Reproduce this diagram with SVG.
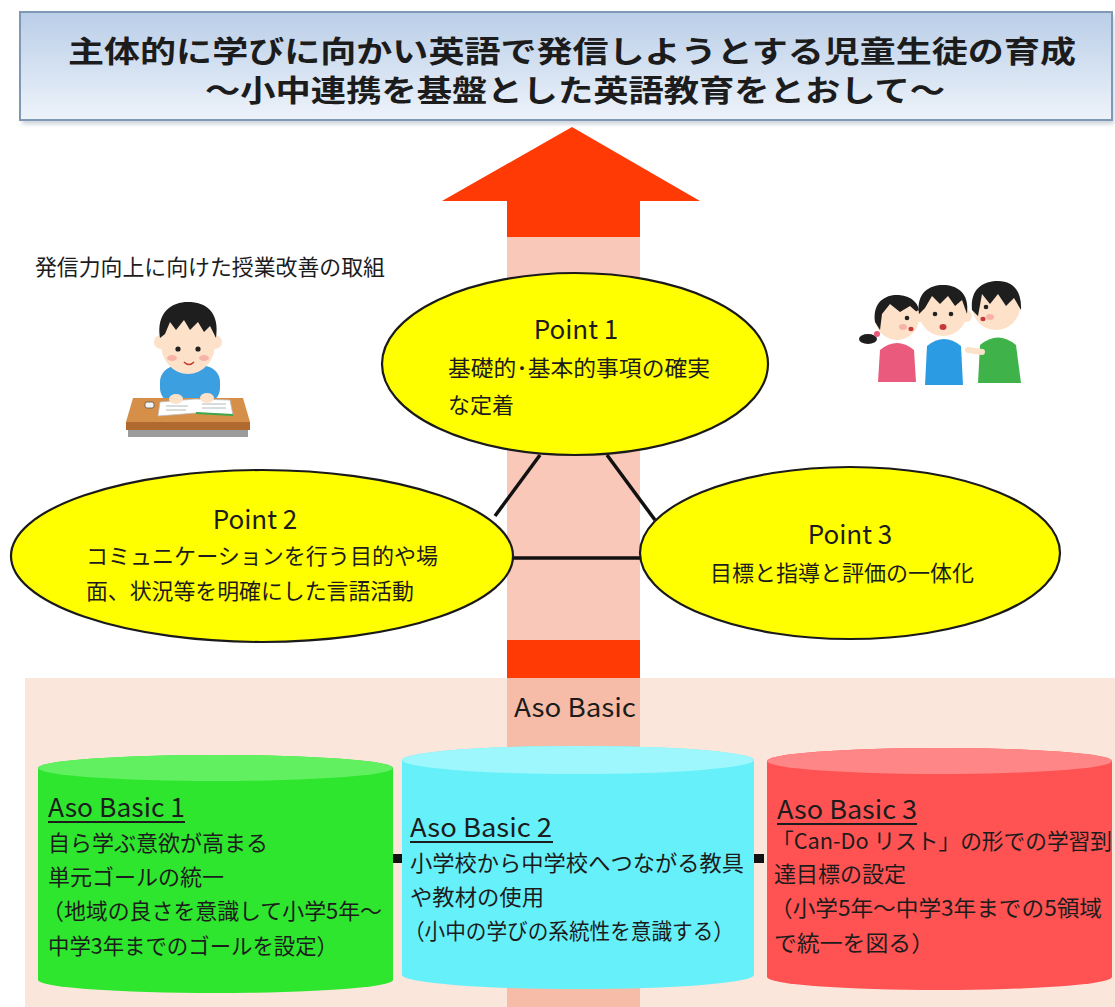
<svg xmlns="http://www.w3.org/2000/svg" width="1115" height="1007" viewBox="0 0 1115 1007">
  <defs>
    <linearGradient id="titleFill" x1="0" y1="0" x2="0" y2="1">
      <stop offset="0" stop-color="#b9cee8"/>
      <stop offset="1" stop-color="#eef3fa"/>
    </linearGradient>
    <filter id="soft" x="-5%" y="-5%" width="110%" height="120%">
      <feGaussianBlur stdDeviation="2"/>
    </filter>
    <style>
      text { font-family: "Noto Sans CJK JP", "Noto Sans", sans-serif; fill: #1c1c1c; }
      .title { font-size: 30px; font-weight: bold; }
      .jp { font-size: 22px; }
      .pt { font-size: 26px; }
      .ab { font-size: 26px; }
      .point { fill: #ffff00; stroke: #1a1a1a; stroke-width: 2.2; }
      .link { stroke: #111; stroke-width: 3.5; fill: none; }
      .uline { stroke: #1c1c1c; stroke-width: 2; }
      .skin { fill: #fde1c9; }
      .hair { fill: #1e1e1e; }
      .cheek { fill: #f7b3a6; }
      .eye { fill: #222; }
    </style>
  </defs>

  <rect width="1115" height="1007" fill="#ffffff"/>

  <!-- title banner -->
  <g id="title">
    <rect x="22" y="16" width="1092" height="108" fill="#9aa6b4" opacity="0.5" filter="url(#soft)"/>
    <rect x="20" y="12" width="1092" height="108" fill="url(#titleFill)" stroke="#7f98b6" stroke-width="2"/>
    <text class="title" x="572" y="62" text-anchor="middle" textLength="1008" lengthAdjust="spacingAndGlyphs">主体的に学びに向かい英語で発信しようとする児童生徒の育成</text>
    <text class="title" x="575" y="101" text-anchor="middle" textLength="740" lengthAdjust="spacingAndGlyphs">～小中連携を基盤とした英語教育をとおして～</text>
  </g>

  <!-- lower "Aso Basic" band -->
  <rect x="25" y="678" width="1090" height="329" fill="#fbe6dc"/>

  <!-- central upward arrow -->
  <g id="arrow">
    <rect x="507" y="237" width="133" height="441" fill="#f9c8b9"/>
    <rect x="507" y="678" width="133" height="329" fill="#f6bca7"/>
    <rect x="507" y="640" width="133" height="38" fill="#ff3a05"/>
    <polygon points="572,127 700,201 640,201 640,237 507,237 507,201 442,201" fill="#ff3a05"/>
  </g>

  <text class="jp" x="35" y="275" textLength="350" lengthAdjust="spacingAndGlyphs">発信力向上に向けた授業改善の取組</text>

  <!-- boy studying at a desk -->
  <g id="boy-desk">
    <rect x="160" y="366" width="60" height="38" rx="16" fill="#3c9fe0"/>
    <circle cx="161" cy="342" r="7" class="skin"/>
    <circle cx="215" cy="342" r="7" class="skin"/>
    <ellipse cx="188" cy="344" rx="27" ry="30" class="skin"/>
    <path class="hair" d="M160,338 C156,312 172,302 188,302 C206,302 220,312 216,338 L210,326 L204,332 L198,322 L190,330 L184,320 L176,330 L170,322 L165,334 Z"/>
    <circle cx="178" cy="349" r="2.6" class="eye"/>
    <circle cx="198" cy="349" r="2.6" class="eye"/>
    <ellipse cx="172" cy="358" rx="5" ry="3" class="cheek"/>
    <ellipse cx="204" cy="358" rx="5" ry="3" class="cheek"/>
    <path d="M184,362 Q189,367 194,362" stroke="#c0392b" stroke-width="1.6" fill="none"/>
    <polygon points="133,398 243,398 250,422 126,422" fill="#d58f48"/>
    <rect x="126" y="422" width="124" height="8" fill="#b06a30"/>
    <rect x="128" y="430" width="120" height="7" fill="#9c9c9c"/>
    <polygon points="160,402 195,399 230,400 233,415 196,413 158,416" fill="#ffffff" stroke="#bbb" stroke-width="0.8"/>
    <path d="M196,413 L233,415" stroke="#3aa84a" stroke-width="2"/>
    <path d="M166,406 H188 M166,410 H186 M202,404 H226 M202,408 H226" stroke="#9aa" stroke-width="0.8"/>
    <ellipse cx="176" cy="399" rx="7" ry="5" class="skin"/>
    <ellipse cx="207" cy="398" rx="7" ry="5" class="skin"/>
    <rect x="145" y="402" width="9" height="6" rx="2" fill="#f4f4f4" stroke="#555" stroke-width="0.8"/>
  </g>

  <!-- children talking -->
  <g id="children">
    <!-- girl -->
    <path d="M878,382 L880,350 Q897,336 914,350 L916,382 Z" fill="#ea5a7c"/>
    <ellipse cx="868" cy="339" rx="9" ry="5" class="hair"/>
    <circle cx="877" cy="334" r="3" fill="#e85a7a"/>
    <circle cx="897" cy="318" r="22" class="skin"/>
    <path class="hair" d="M875,322 C872,300 888,294 899,295 C912,296 920,304 919,314 L910,306 L900,312 L890,304 L882,314 L880,330 Z"/>
    <circle cx="907" cy="318" r="2.3" class="eye"/>
    <ellipse cx="903" cy="327" rx="4" ry="3" class="cheek"/>
    <ellipse cx="911" cy="329" rx="2.6" ry="2.2" fill="#c43a3a"/>
    <!-- boy in green -->
    <path d="M978,383 L980,345 Q998,330 1016,345 L1021,383 Z" fill="#3fb34a"/>
    <path d="M982,352 L968,350" stroke="#fde1c9" stroke-width="6" stroke-linecap="round"/>
    <circle cx="996" cy="306" r="24" class="skin"/>
    <path class="hair" d="M972,310 C970,288 984,281 998,281 C1012,281 1022,290 1021,310 L1014,298 L1006,306 L998,294 L990,304 L982,294 L978,316 Z"/>
    <circle cx="986" cy="307" r="2.3" class="eye"/>
    <ellipse cx="990" cy="317" rx="4" ry="3" class="cheek"/>
    <ellipse cx="983" cy="319" rx="2.6" ry="2.2" fill="#c43a3a"/>
    <!-- boy in blue -->
    <path d="M925,385 L927,346 Q944,332 961,346 L963,385 Z" fill="#2b9be3"/>
    <circle cx="943" cy="312" r="24" class="skin"/>
    <circle cx="920" cy="316" r="6" class="skin"/>
    <circle cx="966" cy="316" r="6" class="skin"/>
    <path class="hair" d="M919,314 C916,292 930,285 943,285 C956,285 970,292 967,314 L962,300 L955,306 L948,296 L940,304 L932,296 L925,308 Z"/>
    <circle cx="935" cy="314" r="2.3" class="eye"/>
    <circle cx="951" cy="314" r="2.3" class="eye"/>
    <ellipse cx="943" cy="327" rx="3.5" ry="3" fill="#c43a3a"/>
  </g>

  <!-- links between the three points -->
  <g id="connectors">
    <line class="link" x1="540" y1="455" x2="495" y2="516"/>
    <line class="link" x1="607" y1="455" x2="655" y2="520"/>
    <line class="link" x1="510" y1="558" x2="642" y2="558"/>
    <rect x="393" y="854" width="10" height="9" fill="#111"/>
    <rect x="753" y="854" width="11" height="9" fill="#111"/>
  </g>

  <g id="point1">
    <ellipse class="point" cx="575" cy="364" rx="193" ry="91"/>
    <text class="pt" x="576" y="339" text-anchor="middle">Point 1</text>
    <text class="jp" x="448" y="376" textLength="262" lengthAdjust="spacingAndGlyphs">基礎的･基本的事項の確実</text>
    <text class="jp" x="448" y="413">な定着</text>
  </g>

  <g id="point2">
    <ellipse class="point" cx="262" cy="556" rx="251" ry="86"/>
    <text class="pt" x="255" y="529" text-anchor="middle">Point 2</text>
    <text class="jp" x="86" y="564" textLength="352" lengthAdjust="spacingAndGlyphs">コミュニケーションを行う目的や場</text>
    <text class="jp" x="86" y="599" textLength="328" lengthAdjust="spacingAndGlyphs">面、状況等を明確にした言語活動</text>
  </g>

  <g id="point3">
    <ellipse class="point" cx="850" cy="553" rx="210" ry="86"/>
    <text class="pt" x="850" y="544" text-anchor="middle">Point 3</text>
    <text class="jp" x="842" y="581" text-anchor="middle" textLength="264" lengthAdjust="spacingAndGlyphs">目標と指導と評価の一体化</text>
  </g>

  <text class="ab" x="575" y="717" text-anchor="middle" textLength="122" lengthAdjust="spacingAndGlyphs">Aso Basic</text>

  <g id="basic1">
    <path d="M38,768 A177.5,13 0 0 1 393,768 V980 A177.5,13 0 0 1 38,980 Z" fill="#2ee62e"/>
    <ellipse cx="215.5" cy="768" rx="177.5" ry="13" fill="#60f060"/>
    <text class="ab" x="48" y="817" textLength="137" lengthAdjust="spacingAndGlyphs">Aso Basic 1</text>
    <line class="uline" x1="48" y1="822" x2="185" y2="822"/>
    <text class="jp" x="48" y="851" textLength="220" lengthAdjust="spacingAndGlyphs">自ら学ぶ意欲が高まる</text>
    <text class="jp" x="48" y="885" textLength="176" lengthAdjust="spacingAndGlyphs">単元ゴールの統一</text>
    <text class="jp" x="42" y="919" textLength="340" lengthAdjust="spacingAndGlyphs">（地域の良さを意識して小学5年～</text>
    <text class="jp" x="48" y="954" textLength="290" lengthAdjust="spacingAndGlyphs">中学3年までのゴールを設定）</text>
  </g>

  <g id="basic2">
    <path d="M402,760 A176,14 0 0 1 754,760 V975 A176,14 0 0 1 402,975 Z" fill="#66f0fa"/>
    <ellipse cx="578" cy="760" rx="176" ry="14" fill="#9ef7fc"/>
    <text class="ab" x="410" y="837" textLength="142" lengthAdjust="spacingAndGlyphs">Aso Basic 2</text>
    <line class="uline" x1="410" y1="842" x2="553" y2="842"/>
    <text class="jp" x="410" y="871" textLength="334" lengthAdjust="spacingAndGlyphs">小学校から中学校へつながる教具</text>
    <text class="jp" x="410" y="905" textLength="134" lengthAdjust="spacingAndGlyphs">や教材の使用</text>
    <text class="jp" x="404" y="939" textLength="330" lengthAdjust="spacingAndGlyphs">（小中の学びの系統性を意識する）</text>
  </g>

  <g id="basic3">
    <path d="M767,761 A172.5,13 0 0 1 1112,761 V977 A172.5,13 0 0 1 767,977 Z" fill="#ff5252"/>
    <ellipse cx="939.5" cy="761" rx="172.5" ry="13" fill="#ff8686"/>
    <text class="ab" x="777" y="819" textLength="140" lengthAdjust="spacingAndGlyphs">Aso Basic 3</text>
    <line class="uline" x1="777" y1="824" x2="917" y2="824"/>
    <text class="jp" x="772" y="849" textLength="340" lengthAdjust="spacingAndGlyphs">「Can-Do リスト」の形での学習到</text>
    <text class="jp" x="774" y="882" textLength="132" lengthAdjust="spacingAndGlyphs">達目標の設定</text>
    <text class="jp" x="770" y="916" textLength="332" lengthAdjust="spacingAndGlyphs">（小学5年～中学3年までの5領域</text>
    <text class="jp" x="774" y="951" textLength="160" lengthAdjust="spacingAndGlyphs">で統一を図る）</text>
  </g>
</svg>
